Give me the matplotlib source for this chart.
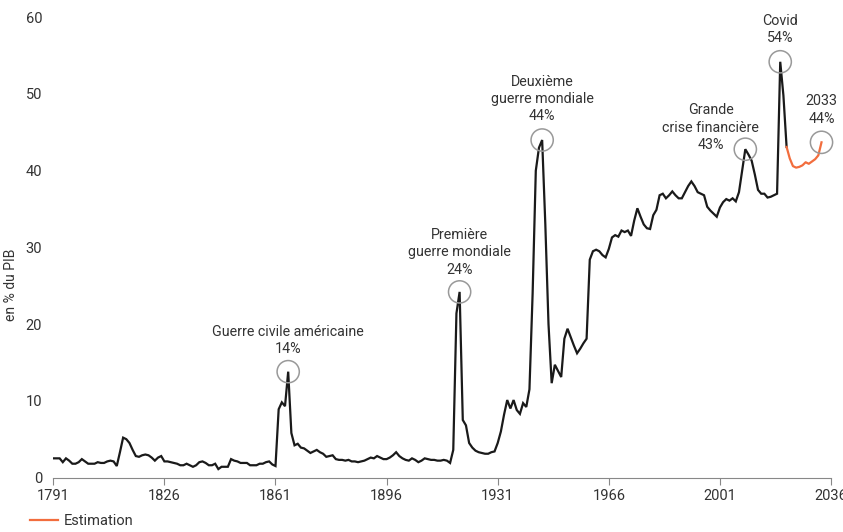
import matplotlib
matplotlib.use("Agg")
import matplotlib.pyplot as plt
from matplotlib.lines import Line2D

# ---------------- data ----------------
hist_start = 1791
hist_values = [
    2.5, 2.5, 2.5, 2.0, 2.5, 2.2, 1.8, 1.8, 2.0, 2.4,        # 1791-1800
    2.1, 1.8, 1.8, 1.8, 2.0, 1.9, 1.9, 2.1, 2.2, 2.1,        # 1801-1810
    1.5, 3.3, 5.2, 5.0, 4.5, 3.6, 2.8, 2.7, 2.9, 3.0,        # 1811-1820
    2.9, 2.6, 2.2, 2.6, 2.8, 2.1, 2.1, 2.0, 1.9, 1.8,        # 1821-1830
    1.6, 1.6, 1.8, 1.6, 1.4, 1.6, 2.0, 2.1, 1.9, 1.6,        # 1831-1840
    1.6, 1.8, 1.1, 1.4, 1.4, 1.4, 2.4, 2.2, 2.1, 1.9,        # 1841-1850
    1.9, 1.9, 1.6, 1.6, 1.6, 1.8, 1.8, 2.0, 2.1, 1.7,        # 1851-1860
    1.5, 8.9, 9.8, 9.3, 13.8, 5.8, 4.2, 4.4, 3.9, 3.8,       # 1861-1870
    3.5, 3.2, 3.4, 3.6, 3.3, 3.1, 2.7, 2.8, 2.9, 2.4,        # 1871-1880
    2.3, 2.3, 2.2, 2.3, 2.1, 2.1, 2.0, 2.1, 2.2, 2.4,        # 1881-1890
    2.6, 2.5, 2.8, 2.6, 2.4, 2.4, 2.6, 2.9, 3.3, 2.8,        # 1891-1900
    2.5, 2.3, 2.2, 2.5, 2.3, 2.0, 2.2, 2.5, 2.4, 2.3,        # 1901-1910
    2.3, 2.2, 2.2, 2.3, 2.2, 1.9, 3.6, 21.4, 24.2, 7.5,      # 1911-1920
    6.8, 4.5, 3.9, 3.5, 3.3, 3.2, 3.1, 3.1, 3.3, 3.4,        # 1921-1930
    4.5, 6.0, 8.2, 10.1, 9.0, 10.1, 8.8, 8.3, 9.7, 9.2,      # 1931-1940
    11.5, 24.0, 40.0, 43.0, 44.0, 33.0, 20.0, 12.3, 14.7, 13.9,  # 1941-1950
    13.1, 18.1, 19.4, 18.3, 17.2, 16.2, 16.8, 17.5, 18.1, 28.4,  # 1951-1960
    29.5, 29.7, 29.5, 29.0, 28.7, 29.8, 31.3, 31.6, 31.4, 32.2,  # 1961-1970
    32.0, 32.2, 31.5, 33.5, 35.1, 34.0, 33.0, 32.5, 32.4, 34.2,  # 1971-1980
    34.9, 36.8, 37.0, 36.4, 36.8, 37.3, 36.8, 36.4, 36.4, 37.2,  # 1981-1990
    38.0, 38.6, 38.0, 37.2, 37.0, 36.8, 35.3, 34.8, 34.4, 34.0,  # 1991-2000
    35.2, 35.9, 36.3, 36.1, 36.4, 36.0, 37.2, 40.0, 42.8, 42.1,  # 2001-2010
    41.3, 39.5, 37.5, 37.0, 37.0, 36.5, 36.6, 36.8, 37.0, 54.2,  # 2011-2020
    49.8, 43.1,                                                  # 2021-2022
]
hist_years = list(range(hist_start, hist_start + len(hist_values)))

est_years = list(range(2022, 2034))
est_values = [43.1, 41.6, 40.6, 40.4, 40.5, 40.7, 41.1, 40.9, 41.2, 41.5, 42.0, 43.7]

events = ["Guerre civile américaine", "Première\nguerre mondiale",
          "Deuxième\nguerre mondiale", "Grande\ncrise financière", "Covid", "2033"]
event_years = [1865, 1919, 1945, 2009, 2020, 2033]
event_values = [13.8, 24.2, 44.0, 42.8, 54.2, 43.7]
event_pct = ["14%", "24%", "44%", "43%", "54%", "44%"]

xticks = [1791, 1826, 1861, 1896, 1931, 1966, 2001, 2036]
yticks = [0, 10, 20, 30, 40, 50, 60]

# ---------------- style ----------------
plt.rcParams["font.family"] = ["Roboto", "DejaVu Sans"]
TXT = "#333333"
BLACK = "#1a1a1a"
ORANGE = "#f26d3d"
GREY = "#999999"

fig = plt.figure(figsize=(8.43, 5.32), dpi=100)
ax = fig.add_axes([0.0632, 0.1024, 0.9226, 0.8651])

ax.plot(hist_years, hist_values, color=BLACK, lw=1.6, solid_joinstyle="miter", zorder=3)
ax.plot(est_years, est_values, color=ORANGE, lw=1.6, zorder=3)

# circles + labels
ax.scatter(event_years, event_values, s=16 ** 2, facecolors="none",
           edgecolors=GREY, linewidths=1.1, zorder=4, clip_on=False)

offsets = [(0, 11), (0, 11), (0, 12), (-25, -2), (0, 12), (0, 12)]
for name, yr, val, pct, off in zip(events, event_years, event_values, event_pct, offsets):
    ax.annotate(f"{name}\n{pct}", xy=(yr, val), xytext=off, textcoords="offset points",
                ha="center", va="bottom", multialignment="center", fontsize=10.3,
                color=TXT, linespacing=1.3, annotation_clip=False)

ax.set_xlim(1791, 2036)
ax.set_ylim(0, 60)
ax.set_xticks(xticks)
ax.set_yticks(yticks)
ax.tick_params(axis="y", length=0, pad=8, labelsize=10.5, labelcolor=TXT)
ax.tick_params(axis="x", length=5, width=0.8, color="#888888", pad=3,
               labelsize=10.5, labelcolor=TXT)
for s in ["top", "right", "left"]:
    ax.spines[s].set_visible(False)
ax.spines["bottom"].set_color("#888888")
ax.spines["bottom"].set_linewidth(0.8)

fig.text(0.013, 0.465, "en % du PIB", rotation=90, ha="center", va="center",
         fontsize=10, color=TXT)

handle = Line2D([], [], color=ORANGE, lw=1.6)
fig.legend([handle], ["Estimation"], loc="lower left", bbox_to_anchor=(0.02, -0.018),
           frameon=False, fontsize=10.5, handlelength=1.9, handletextpad=0.4,
           labelcolor=TXT)

fig.savefig("out.png", dpi=100)
